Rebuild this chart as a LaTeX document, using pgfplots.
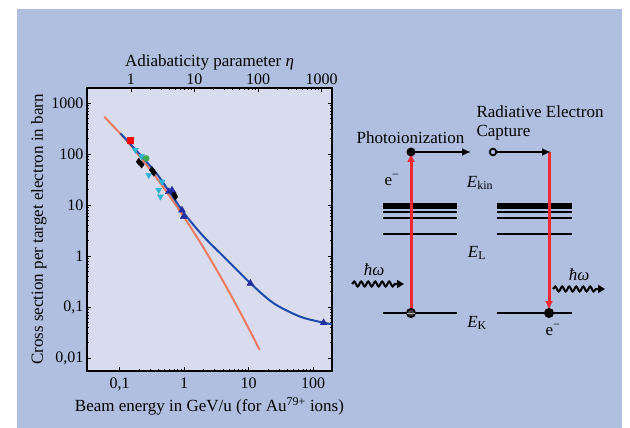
\documentclass[border=0pt]{standalone}
\usepackage{pgfplots}
\pgfplotsset{compat=1.18}
\usepackage{fontspec}
\setmainfont{Liberation Serif}
\usetikzlibrary{decorations.pathmorphing,arrows.meta}
\definecolor{bgblue}{RGB}{176,191,223}
\definecolor{plotbg}{RGB}{216,220,238}
\definecolor{curveblue}{RGB}{30,75,170}
\definecolor{lineorange}{RGB}{240,122,98}
\definecolor{arrowred}{RGB}{240,40,50}
\definecolor{tricyan}{RGB}{40,180,210}
\definecolor{triblue}{RGB}{35,45,160}
\definecolor{dotgreen}{RGB}{60,170,80}
\tikzset{dtext/.style={font=\fontsize{17}{20}\selectfont}}
\begin{document}
\begin{tikzpicture}[x=1pt,y=1pt]
\fill[white] (0,0) rectangle (630,428);
\fill[bgblue] (17,0) rectangle (622,419);
% main axis
\begin{axis}[at={(87pt,57pt)}, anchor=south west, scale only axis,
  width=245pt, height=283pt,
  xmode=log, ymode=log,
  xmin=0.0313, xmax=197, ymin=0.00556, ymax=1968,
  axis background/.style={fill=plotbg},
  axis line style={black, line width=1.3pt},
  tick style={black, line width=0.6pt}, tick align=inside,
  major tick length=4pt, minor tick length=2pt,
  xtick={0.1,1,10,100}, xticklabels={{0,1},1,10,100},
  ytick={0.01,0.1,1,10,100,1000}, yticklabels={{0,01},{0,1},1,10,100,1000},
  xtick pos=left, ytick pos=both,
  ticklabel style={font=\fontsize{16}{18}\selectfont},
  xticklabel style={yshift=-3pt},
  label style={font=\fontsize{17}{20}\selectfont},
  xlabel={Beam energy in GeV/u (for Au\textsuperscript{79+} ions)},
  ylabel={Cross section per target electron in barn},
  xlabel style={yshift=0pt},
  ylabel style={yshift=-2pt},
  clip=true]
\addplot[lineorange, line width=2pt, smooth] coordinates {(0.0581,538) (0.126,188) (0.251,65.5) (0.501,20.5) (1,5.77) (2.0,1.46) (3.98,0.331) (7.94,0.0673) (14.93,0.01436)};
\addplot[curveblue, line width=2pt, smooth] coordinates {(0.103,255) (0.339,48.5) (0.614,17) (1.05,6.4) (2.02,2.39) (4.64,0.836) (10.7,0.292) (24.6,0.118) (63.6,0.0645) (146.5,0.0492) (197,0.046)};
\addplot[only marks, mark=square*, mark size=3pt, color=red] coordinates {(0.147,188)};
\addplot[only marks, mark=triangle*, mark size=3.5pt, mark options={rotate=180}, color=tricyan] coordinates {(0.176,120)(0.22,90)(0.284,38.7)(0.456,28.6)(0.405,19.7)(0.43,14.6)};
\addplot[only marks, mark=diamond*, mark size=3.5pt, color=black] coordinates {(0.199,70.6)(0.22,62)(0.319,48.6)(0.34,43)(0.69,17)(0.733,14.6)};
\addplot[only marks, mark=*, mark size=3pt, color=dotgreen] coordinates {(0.26,82)};
\addplot[only marks, mark=triangle*, mark size=4pt, color=triblue] coordinates {(0.58,18.2)(0.65,19.5)(0.93,7.9)(0.99,5.9)(10.7,0.29)(146,0.049)};
\end{axis}
% top axis (adiabaticity parameter)
\begin{axis}[at={(87pt,57pt)}, anchor=south west, scale only axis,
  width=245pt, height=283pt,
  xmode=log, xmin=0.203, xmax=1462, ymin=0, ymax=1,
  axis x line*=top, axis y line=none,
  axis line style={black, line width=1.3pt},
  tick style={black, line width=0.6pt}, tick align=inside,
  major tick length=4pt, minor tick length=2pt,
  xtick={1,10,100,1000}, xticklabels={1,10,100,1000},
  ticklabel style={font=\fontsize{16}{18}\selectfont},
  label style={font=\fontsize{17}{20}\selectfont},
  xlabel={Adiabaticity parameter \textit{η}},
  xlabel style={yshift=-3pt}]
\addplot[draw=none] coordinates {(1,0.5)};
\end{axis}
% energy-level diagram
\begin{axis}[at={(0pt,0pt)}, anchor=south west, scale only axis,
  width=630pt, height=428pt, xmin=0, xmax=630, ymin=0, ymax=428,
  y dir=reverse, hide axis, clip=false]
% levels
\addplot[black, line width=6pt] coordinates {(383,206) (457,206)};
\addplot[black, line width=2pt] coordinates {(383,212.5) (457,212.5)};
\addplot[black, line width=2pt] coordinates {(383,218.5) (457,218.5)};
\addplot[black, line width=2pt] coordinates {(383,234) (457,234)};
\addplot[black, line width=2pt] coordinates {(383,313) (457,313)};
\addplot[black, line width=6pt] coordinates {(497,206) (572,206)};
\addplot[black, line width=2pt] coordinates {(497,212.5) (572,212.5)};
\addplot[black, line width=2pt] coordinates {(497,218.5) (572,218.5)};
\addplot[black, line width=2pt] coordinates {(497,234) (572,234)};
\addplot[black, line width=2pt] coordinates {(497,313) (572,313)};
% red transitions
\draw[arrowred, line width=3pt, -{Latex[length=9pt,width=8pt]}] (411,313) -- (411,153);
\draw[arrowred, line width=3pt, -{Latex[length=9pt,width=8pt]}] (549,152) -- (549,310);
% black arrows
\draw[black, line width=2pt, -{Latex[length=9pt,width=8pt]}] (411,152) -- (471,152);
\draw[black, line width=2pt, -{Latex[length=9pt,width=8pt]}] (493,152) -- (551,152);
\fill[black] (411,152) circle (4.5pt);
\draw[black, line width=1.8pt, fill=bgblue] (493,152) circle (3.3pt);
\draw[black, line width=1.6pt, fill=black!75] (411,313) circle (4.2pt);
\draw[black!30, line width=1pt] (407,313) -- (415,313);
\fill[black] (549,313) circle (5pt);
% photons
\draw[black, line width=2pt, decorate, decoration={snake, amplitude=2.5pt, segment length=7pt, post length=7pt}, -{Triangle[length=7pt,width=8pt]}] (352,284) -- (404,284);
\draw[black, line width=2pt, decorate, decoration={snake, amplitude=2.5pt, segment length=7pt, post length=7pt}, -{Triangle[length=7pt,width=8pt]}] (553,289) -- (605,289);
% texts
\node[dtext] at (410.5,138) {Photoionization};
\node[dtext, anchor=west] at (473,112) {Radiative Electron};
\node[dtext, anchor=west] at (473,133) {Capture};
\node[dtext] at (392,180) {e\textsuperscript{−}};
\node[dtext] at (480,183) {\textit{E}\textsubscript{kin}};
\node[dtext] at (477,253) {\textit{E}\textsubscript{L}};
\node[dtext] at (477,323) {\textit{E}\textsubscript{K}};
\node[dtext] at (553,330) {e\textsuperscript{−}};
\node[dtext] at (374,270) {\textit{ħω}};
\node[dtext] at (579,275) {\textit{ħω}};
\end{axis}
\end{tikzpicture}
\end{document}
